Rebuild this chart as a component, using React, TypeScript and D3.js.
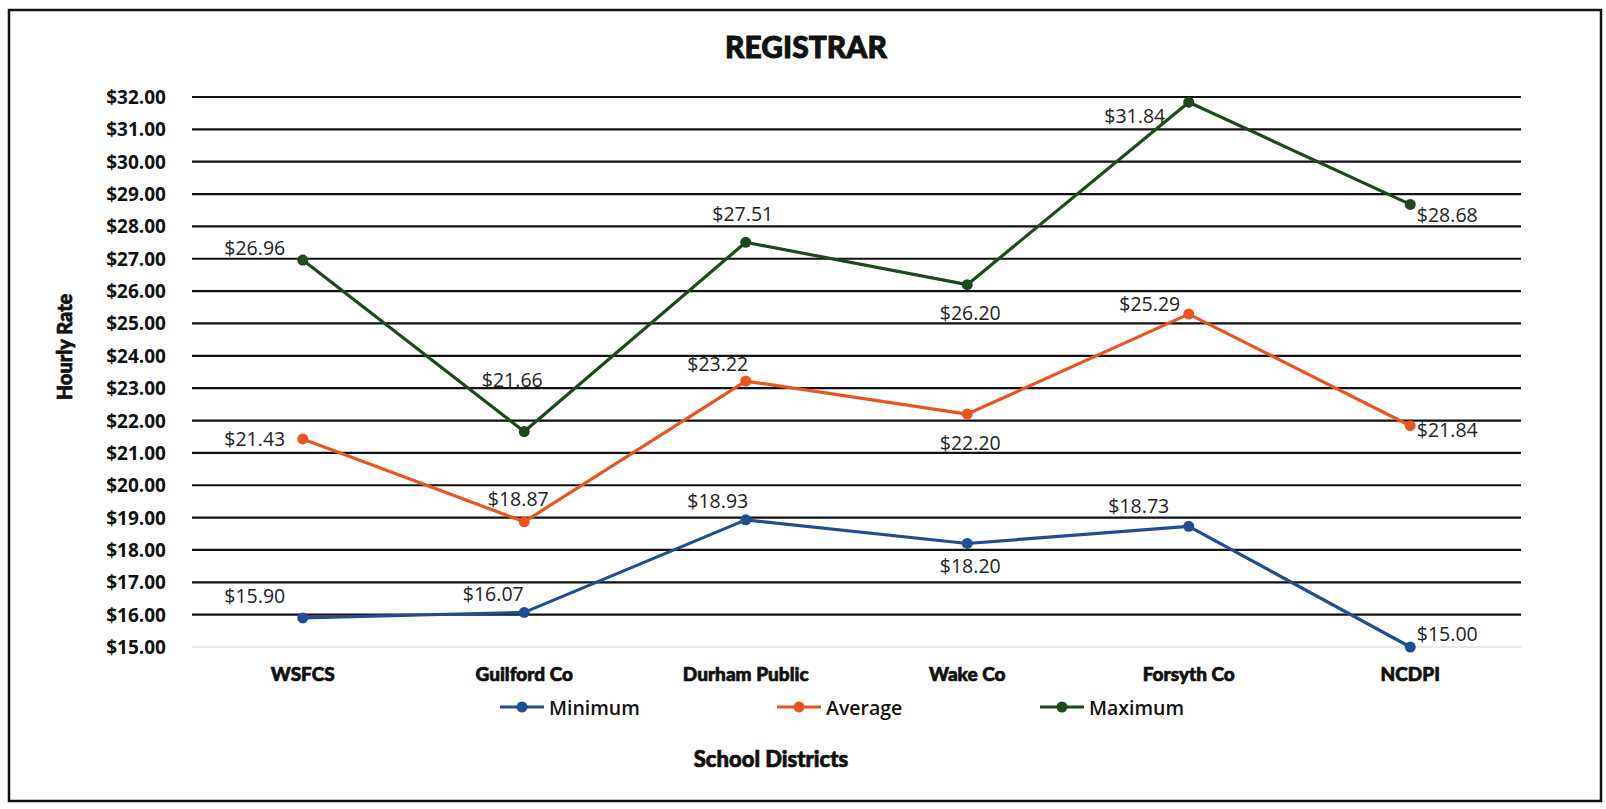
import React from "react";
import * as d3 from "d3";

const categories = ["WSFCS", "Guilford Co", "Durham Public", "Wake Co", "Forsyth Co", "NCDPI"];
const minimumValues = [15.9, 16.07, 18.93, 18.2, 18.73, 15.0];
const averageValues = [21.43, 18.87, 23.22, 22.2, 25.29, 21.84];
const maximumValues = [26.96, 21.66, 27.51, 26.2, 31.84, 28.68];
const yTicks = [15, 16, 17, 18, 19, 20, 21, 22, 23, 24, 25, 26, 27, 28, 29, 30, 31, 32];
const seriesNames = ["Minimum", "Average", "Maximum"];

// label placement offsets (layout only)
const labelOffsets: Record<string, [number, number][]> = {
  Minimum: [[-48, -22], [-31, -19], [-28, -19], [3, 22], [-50, -21], [37, -14]],
  Average: [[-48, 0], [-6, -23], [-28, -18], [3, 28], [-39, -11], [37, 4]],
  Maximum: [[-48, -13], [-12, -52], [-3, -29], [3, 28], [-54, 13], [37, 10]],
};

const colors: Record<string, string> = {
  Minimum: "#1f4f93",
  Average: "#e8551f",
  Maximum: "#1c4a1d",
};

const W = 1606;
const H = 809;
const plotLeft = 192;
const plotRight = 1521;
const plotTop = 97;
const plotBottom = 647;

const heavy = {
  fontFamily: "Lato, 'Liberation Sans', sans-serif",
  fontWeight: 900,
  fill: "#111",
  stroke: "#111",
  strokeWidth: 0.7,
};

export default function App() {
  const x = d3.scaleBand<string>().domain(categories).range([plotLeft, plotRight]).paddingInner(0).paddingOuter(0);
  const y = d3.scaleLinear().domain([15, 32]).range([plotBottom, plotTop]);
  const cx = (c: string) => (x(c) as number) + x.bandwidth() / 2;

  const seriesData: Record<string, number[]> = {
    Minimum: minimumValues,
    Average: averageValues,
    Maximum: maximumValues,
  };

  const line = d3
    .line<[string, number]>()
    .x((d) => cx(d[0]))
    .y((d) => y(d[1]));

  const fmt = (v: number) => "$" + d3.format(".2f")(v);

  const legendX = [500, 777, 1040];

  return (
    <div style={{ position: "absolute", left: 0, top: 0 }}>
      <svg width={W} height={H} style={{ display: "block", background: "#fff" }}>
        <rect x={9} y={10} width={1592} height={791} fill="#fff" stroke="#111" strokeWidth={2.5} />
        <text x={806} y={46} textAnchor="middle" dominantBaseline="central" fontSize={30} {...heavy} strokeWidth={0.9}>
          REGISTRAR
        </text>

        {yTicks.map((t) => (
          <g key={t}>
            <line
              x1={plotLeft}
              x2={plotRight}
              y1={y(t)}
              y2={y(t)}
              stroke={t === 15 ? "#dde3ea" : "#111"}
              strokeWidth={t === 15 ? 1.5 : 2.2}
            />
            <text
              x={166}
              y={y(t)}
              textAnchor="end"
              dominantBaseline="central"
              fontFamily="Open Sans"
              fontWeight={700}
              fontSize={19}
              fill="#111"
            >
              {fmt(t)}
            </text>
          </g>
        ))}

        <text
          transform={`translate(64,347) rotate(-90)`}
          textAnchor="middle"
          dominantBaseline="central"
          fontSize={20}
          {...heavy}
        >
          Hourly Rate
        </text>

        {categories.map((c) => (
          <text key={c} x={cx(c)} y={673} textAnchor="middle" dominantBaseline="central" fontSize={19} {...heavy}>
            {c}
          </text>
        ))}

        <text x={771} y={758} textAnchor="middle" dominantBaseline="central" fontSize={22} {...heavy}>
          School Districts
        </text>

        {seriesNames.map((s) => {
          const pts: [string, number][] = categories.map((c, i) => [c, seriesData[s][i]]);
          return (
            <g key={s}>
              <path d={line(pts) || ""} fill="none" stroke={colors[s]} strokeWidth={3.2} strokeLinejoin="round" />
              {pts.map((p) => (
                <circle key={p[0]} cx={cx(p[0])} cy={y(p[1])} r={5.5} fill={colors[s]} />
              ))}
            </g>
          );
        })}

        {seriesNames.map((s) =>
          categories.map((c, i) => (
            <text
              key={s + c}
              x={cx(c) + labelOffsets[s][i][0]}
              y={y(seriesData[s][i]) + labelOffsets[s][i][1]}
              textAnchor="middle"
              dominantBaseline="central"
              fontFamily="Open Sans"
              fontSize={19.5}
              fill="#222"
            >
              {fmt(seriesData[s][i])}
            </text>
          ))
        )}

        {seriesNames.map((s, i) => (
          <g key={s} transform={`translate(${legendX[i]},707)`}>
            <line x1={0} x2={44} y1={0} y2={0} stroke={colors[s]} strokeWidth={3.2} />
            <circle cx={22} cy={0} r={5.5} fill={colors[s]} />
            <text
              x={49}
              y={0}
              dominantBaseline="central"
              fontFamily="Open Sans"
              fontWeight={600}
              fontSize={19.5}
              fill="#111"
            >
              {s}
            </text>
          </g>
        ))}
      </svg>
    </div>
  );
}
